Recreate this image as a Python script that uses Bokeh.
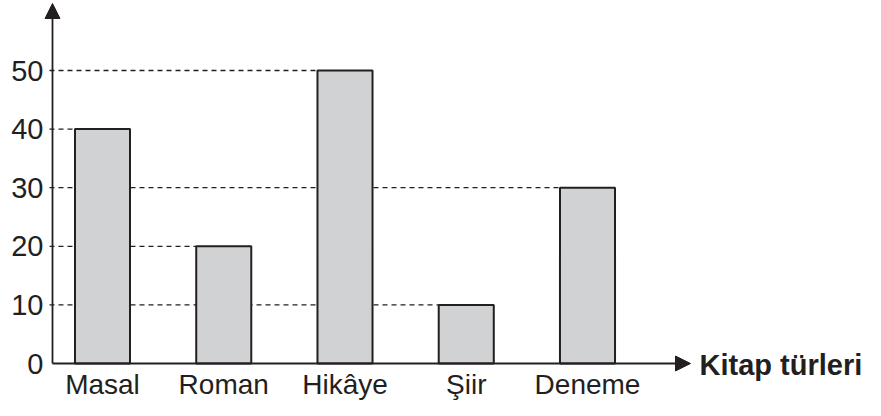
from bokeh.plotting import figure
from bokeh.models import Range1d, FixedTicker, Arrow, NormalHead, Label, ColumnDataSource
from bokeh.core.properties import value
from bokeh.embed import file_html
from bokeh.resources import INLINE

# ---- data ----
categories = ["Masal", "Roman", "Hikâye", "Şiir", "Deneme"]
counts = [40, 20, 50, 10, 30]
y_ticks = [0, 10, 20, 30, 40, 50]
x_title = "Kitap türleri"

# ---- layout constants ----
W, H = 865, 400
LEFT = 43                    # width of the y-axis label panel
PX_X = 121.25                # pixels per category step
PX_Y = 5.86                  # pixels per unit of count
FIRST_BAR_PX = 102           # screen x of first category
ZERO_PX = 363                # screen y of the zero line
AXIS_PX = 52                 # screen x of the y axis line
X_START = -(FIRST_BAR_PX - LEFT) / PX_X
X_END = X_START + (W - LEFT) / PX_X
Y_END = ZERO_PX / PX_Y
Y_START = -(H - ZERO_PX) / PX_Y
AXIS_X = -(FIRST_BAR_PX - AXIS_PX) / PX_X
X_TIP = (690 - FIRST_BAR_PX) / PX_X
Y_TIP = (ZERO_PX - 3) / PX_Y
BAR_W = 0.454
INK = "#231f20"
FONT = "Liberation Sans"

idx = list(range(len(categories)))
src = ColumnDataSource(dict(
    x=idx,
    top=counts,
    name=categories,
    gx0=[AXIS_X - 3 / PX_X] * len(idx),
    gx1=[i - BAR_W / 2 for i in idx],
))

p = figure(width=W, height=H, output_backend="svg", toolbar_location=None,
           x_range=Range1d(X_START, X_END), y_range=Range1d(Y_START, Y_END),
           x_axis_location=None,
           min_border_left=LEFT, min_border_right=0, min_border_top=0,
           min_border_bottom=0)
p.outline_line_color = None
p.xgrid.visible = False
p.ygrid.visible = False
p.background_fill_color = "white"
p.border_fill_color = "white"

# dashed guide lines from the axis to each bar
p.segment(x0="gx0", y0="top", x1="gx1", y1="top", source=src,
          line_color=INK, line_width=1.3, line_dash="5 4")

# bars
p.vbar(x="x", top="top", bottom=0, width=BAR_W, source=src,
       fill_color="#d1d2d4", line_color=INK, line_width=2)

# category labels under the axis
p.text(x="x", y=0, text="name", source=src, y_offset=5,
       text_font=value(FONT), text_font_size="28px", text_color=INK,
       text_align="center", text_baseline="top")

# y axis (labels only; line and arrow drawn as annotation)
ya = p.yaxis[0]
ya.ticker = FixedTicker(ticks=y_ticks)
ya.axis_line_color = None
ya.major_tick_out = 0
ya.major_tick_in = 0
ya.minor_tick_line_color = None
ya.major_tick_line_color = None
ya.major_label_standoff = 0
ya.major_label_text_font = FONT
ya.major_label_text_font_size = "29px"
ya.major_label_text_color = INK

# axis lines with arrow heads
p.add_layout(Arrow(end=NormalHead(size=15, fill_color=INK, line_color=INK),
                   x_start=AXIS_X, y_start=0, x_end=AXIS_X, y_end=Y_TIP,
                   line_color=INK, line_width=1.8))
p.add_layout(Arrow(end=NormalHead(size=15, fill_color=INK, line_color=INK),
                   x_start=AXIS_X, y_start=0, x_end=X_TIP, y_end=0,
                   line_color=INK, line_width=1.8))

# x axis title at the arrow tip
p.add_layout(Label(x=X_TIP, y=0, x_offset=9, y_offset=-1, text=x_title,
                   text_font=FONT, text_font_size="29px", text_font_style="bold",
                   text_baseline="middle", text_align="left", text_color=INK))

open("out.html", "w").write(file_html(p, INLINE))
